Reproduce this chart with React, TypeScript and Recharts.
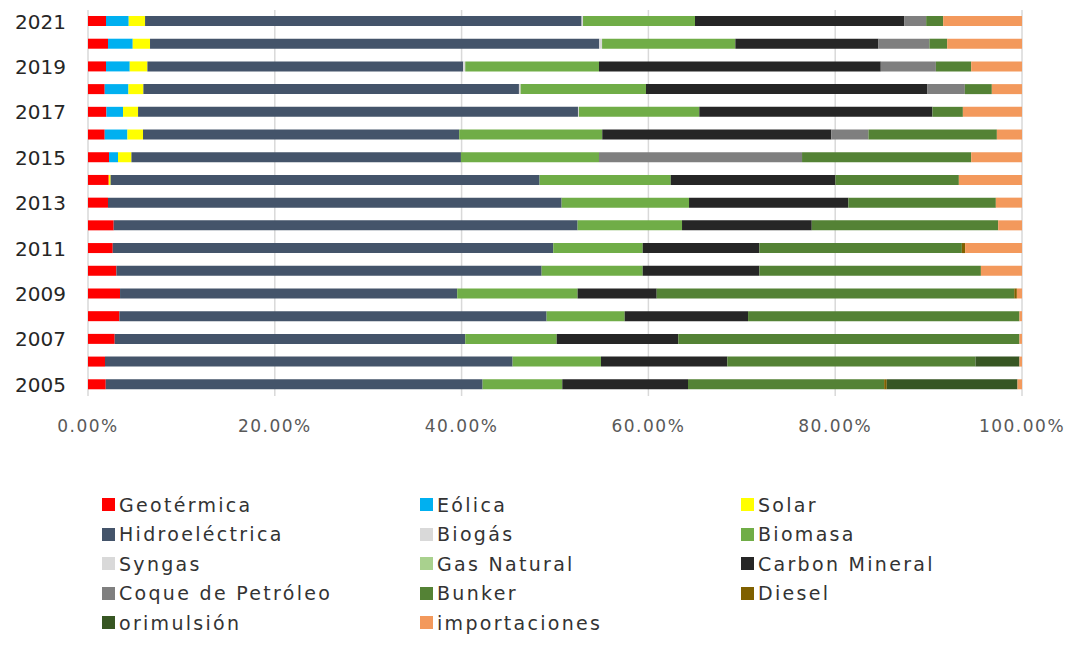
import { BarChart, Bar, XAxis, YAxis, CartesianGrid } from "recharts"

// years, top to bottom
const years = ["2021", "2020", "2019", "2018", "2017", "2016", "2015", "2014", "2013", "2012", "2011", "2010", "2009", "2008", "2007", "2006", "2005"]

// share of generation by source (%), same order as years
const geotermica = [1.93, 2.14, 1.93, 1.79, 1.97, 1.79, 2.25, 2.22, 2.14, 2.75, 2.65, 3.04, 3.43, 3.36, 2.86, 1.82, 1.9]
const eolica = [2.43, 2.65, 2.54, 2.54, 1.78, 2.43, 0.96, 0, 0, 0, 0, 0, 0, 0, 0, 0, 0]
const solar = [1.75, 1.85, 1.89, 1.6, 1.61, 1.67, 1.44, 0.2, 0, 0, 0, 0, 0, 0, 0, 0, 0]
const hidroelectrica = [46.74, 48.1, 33.81, 40.21, 47.1, 33.85, 35.28, 45.93, 48.57, 49.67, 47.16, 45.53, 36.1, 45.74, 37.53, 43.64, 40.35]
const biogas = [0.15, 0.3, 0.22, 0.18, 0.1, 0, 0, 0, 0, 0, 0, 0, 0, 0, 0, 0, 0]
const biomasa = [11.99, 14.27, 14.32, 13.42, 12.89, 15.32, 14.78, 14.04, 13.64, 11.18, 9.58, 10.82, 12.89, 8.36, 9.79, 9.46, 8.53]
const syngas = [0, 0, 0, 0, 0, 0, 0, 0, 0, 0, 0, 0, 0, 0, 0, 0, 0]
const gasNatural = [0, 0, 0, 0, 0, 0, 0, 0, 0, 0, 0, 0, 0, 0, 0, 0, 0]
const carbonMineral = [22.39, 15.32, 30.17, 30.14, 24.96, 24.53, 0, 17.63, 17.06, 13.89, 12.49, 12.49, 8.47, 13.21, 13.02, 13.53, 13.46]
const coque = [2.36, 5.46, 5.9, 4.0, 0, 3.97, 21.74, 0, 0, 0, 0, 0, 0, 0, 0, 0, 0]
const bunker = [1.82, 1.9, 3.78, 2.89, 3.26, 13.75, 18.11, 13.22, 15.79, 19.96, 21.68, 23.72, 38.28, 29.06, 36.53, 26.57, 21.0]
const diesel = [0, 0, 0, 0, 0, 0, 0, 0, 0, 0, 0.35, 0, 0.28, 0, 0, 0, 0.28]
const orimulsion = [0, 0, 0, 0, 0, 0, 0, 0, 0, 0, 0, 0, 0, 0, 0, 4.71, 14.0]
const importaciones = [8.44, 8.01, 5.44, 3.23, 6.33, 2.69, 5.44, 6.76, 2.8, 2.55, 6.09, 4.4, 0.55, 0.27, 0.27, 0.27, 0.48]

const xTicks = [0, 0.2, 0.4, 0.6, 0.8, 1]

const series = [
  { key: "geotermica", name: "Geotérmica", color: "#FF0000", values: geotermica },
  { key: "eolica", name: "Eólica", color: "#00B0F0", values: eolica },
  { key: "solar", name: "Solar", color: "#FFFF00", values: solar },
  { key: "hidro", name: "Hidroeléctrica", color: "#44546A", values: hidroelectrica },
  { key: "biogas", name: "Biogás", color: "#D9D9D9", values: biogas },
  { key: "biomasa", name: "Biomasa", color: "#70AD47", values: biomasa },
  { key: "syngas", name: "Syngas", color: "#D9D9D9", values: syngas },
  { key: "gas", name: "Gas Natural", color: "#A9D18E", values: gasNatural },
  { key: "carbon", name: "Carbon Mineral", color: "#262626", values: carbonMineral },
  { key: "coque", name: "Coque de Petróleo", color: "#7F7F7F", values: coque },
  { key: "bunker", name: "Bunker", color: "#548235", values: bunker },
  { key: "diesel", name: "Diesel", color: "#7F6000", values: diesel },
  { key: "orimulsion", name: "orimulsión", color: "#375623", values: orimulsion },
  { key: "importaciones", name: "importaciones", color: "#F3995C", values: importaciones },
]

const data = years.map((year, i) => {
  const row: Record<string, any> = { year }
  series.forEach((s) => {
    row[s.key] = s.values[i]
  })
  return row
})

const font = "'DejaVu Sans', sans-serif"

// year labels drawn by hand so the size sticks
const YearTick = ({ x, y, payload }: any) => (
  <text
    x={x}
    y={y}
    dy="0.36em"
    textAnchor="end"
    fill="#262626"
    style={{ fontSize: "20px", fontFamily: font }}
  >
    {payload.value}
  </text>
)

function ChartLegend() {
  return (
    <div
      style={{
        position: "absolute",
        left: 94,
        top: 482,
        display: "grid",
        gridTemplateColumns: "318px 321px 300px",
        gridAutoRows: "29.5px",
        fontFamily: font,
        fontSize: 19,
        letterSpacing: 2.3,
        color: "#333",
      }}
    >
      {series.map((s) => (
        <div key={s.key} style={{ display: "flex", alignItems: "center", whiteSpace: "nowrap" }}>
          <span style={{ width: 13, height: 13, background: s.color, marginRight: 4, flex: "none" }} />
          {s.name}
        </div>
      ))}
    </div>
  )
}

export default function App() {
  return (
    <div style={{ position: "relative", width: 1060, height: 632, background: "#fff" }}>
      <BarChart
        width={1060}
        height={430}
        data={data}
        layout="vertical"
        stackOffset="expand"
        barSize={10}
        margin={{ top: 2, right: 46, left: 0, bottom: 2 }}
      >
        <CartesianGrid horizontal={false} stroke="#D9D9D9" strokeWidth={1.5} />
        <XAxis
          type="number"
          domain={[0, 1]}
          ticks={xTicks}
          tickFormatter={(v) => `${(v * 100).toFixed(2)}%`}
          axisLine={false}
          tickLine={false}
          height={40}
          tickMargin={18}
          tick={{ fontSize: 17, fill: "#595959", fontFamily: font, letterSpacing: 1.5 }}
        />
        <YAxis
          type="category"
          dataKey="year"
          width={80}
          interval={1}
          axisLine={false}
          tickLine={false}
          tickMargin={16}
          tick={<YearTick />}
        />
        {series.map((s) => (
          <Bar key={s.key} dataKey={s.key} name={s.name} stackId="a" fill={s.color} isAnimationActive={false} />
        ))}
      </BarChart>
      <ChartLegend />
    </div>
  )
}
